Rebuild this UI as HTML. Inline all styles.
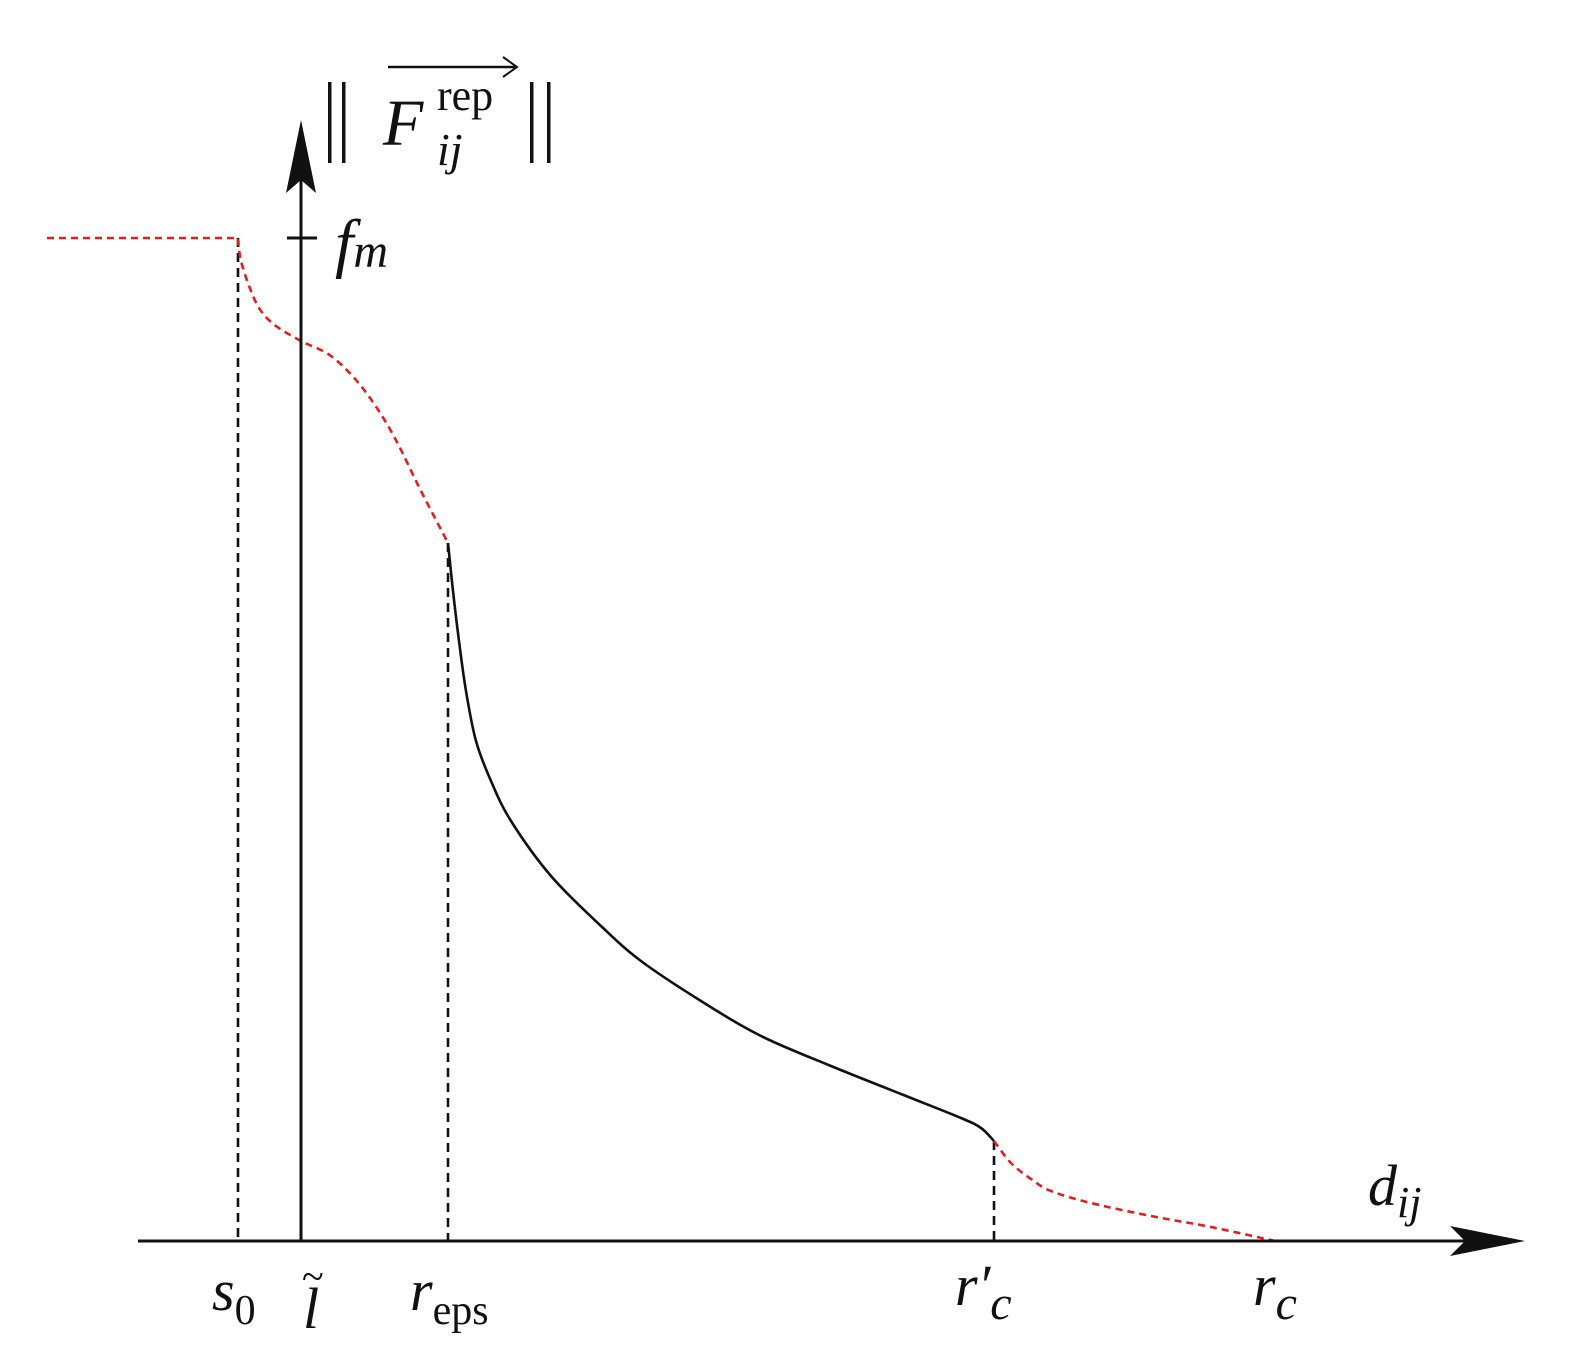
<!DOCTYPE html>
<html><head><meta charset="utf-8"><style>
body{margin:0;background:#fff}
svg{display:block}
text{font-family:"Liberation Serif",serif;fill:#111}
</style></head><body>
<svg width="1570" height="1352" viewBox="0 0 1570 1352">
<g id="marks"></g>
<line x1="138" y1="1241" x2="1480" y2="1241" stroke="#111" stroke-width="3"/>
<polygon points="1525,1241 1450,1226 1465,1241 1450,1256" fill="#111"/>
<line x1="301" y1="1241" x2="301" y2="160" stroke="#111" stroke-width="3"/>
<polygon points="301,120 286,193 301,180 316,193" fill="#111"/>
<line x1="287" y1="238" x2="317" y2="238" stroke="#111" stroke-width="3"/>
<g>
<rect x="328" y="82" width="3.5" height="81" fill="#111"/><rect x="342" y="82" width="3.5" height="81" fill="#111"/>
<rect x="530" y="82" width="3.5" height="81" fill="#111"/><rect x="547" y="82" width="3.5" height="81" fill="#111"/>
<line x1="388" y1="67" x2="515" y2="67" stroke="#111" stroke-width="2.5"/>
<path d="M503,57 L517,67 L503,77" fill="none" stroke="#111" stroke-width="2"/>
<text x="383" y="145" font-size="66" font-style="italic">F</text>
<text x="437" y="110" font-size="44">rep</text>
<text x="437" y="165" font-size="46" font-style="italic">ij</text>
</g>
<text x="335" y="265" font-size="66" font-style="italic">f<tspan font-size="48" dy="2">m</tspan></text>
<text x="1368" y="1205" font-size="58" font-style="italic">d<tspan font-size="44" dy="12">ij</tspan></text>
<text x="212" y="1310" font-size="58" font-style="italic">s<tspan font-style="normal" font-size="42" dy="14">0</tspan></text>
<text x="303" y="1328" font-size="58" font-style="italic">l</text>
<text x="302" y="1290" font-size="40">~</text>
<text x="410" y="1310" font-size="58" font-style="italic">r<tspan font-style="normal" font-size="42" dy="14">eps</tspan></text>
<text x="955" y="1305" font-size="58" font-style="italic">r′<tspan font-size="48" dy="14">c</tspan></text>
<text x="1253" y="1305" font-size="58" font-style="italic">r<tspan font-size="48" dy="14">c</tspan></text>
</svg>
<script>
const redLeftX=[-2.54,-0.63,-0.6,-0.5,-0.4,-0.25,0,0.3,0.6,0.9,1.2,1.47];
const redLeftY=[10.03,10.03,9.8,9.5,9.3,9.15,9.0,8.85,8.55,8.1,7.5,6.98];
const blackX=[1.47,1.52,1.58,1.65,1.75,1.9,2.1,2.5,3.0,3.4,4.0,4.6,5.3,6.0,6.6,6.8,6.93];
const blackY=[6.98,6.5,6.0,5.5,5.0,4.6,4.2,3.65,3.15,2.8,2.4,2.05,1.75,1.47,1.23,1.13,1.0];
const redRightX=[6.93,7.1,7.3,7.5,7.9,8.5,9.1,9.74];
const redRightY=[1.0,0.78,0.62,0.5,0.38,0.25,0.14,0];
const guideX=[-0.63,1.47,6.93];
const guideTop=[10.03,6.98,1.0];
const xs=v=>301+v*100, ys=v=>1241-v*100;
const g=document.getElementById('marks');
const NS='http://www.w3.org/2000/svg';
function path(X,Y,color,dash,name,smoothFrom){
  const P=X.map((x,i)=>[xs(x),ys(Y[i])]);
  let d='M'+P[0][0]+','+P[0][1];
  for(let i=0;i<P.length-1;i++){
    if(i<smoothFrom){d+='L'+P[i+1][0]+','+P[i+1][1];continue;}
    const p0=P[Math.max(i-1,smoothFrom)],p1=P[i],p2=P[i+1],p3=P[Math.min(i+2,P.length-1)];
    const c1=[p1[0]+(p2[0]-p0[0])/6,p1[1]+(p2[1]-p0[1])/6];
    const c2=[p2[0]-(p3[0]-p1[0])/6,p2[1]-(p3[1]-p1[1])/6];
    d+='C'+c1+' '+c2+' '+p2;
  }
  const p=document.createElementNS(NS,'path');
  p.setAttribute('d',d);p.setAttribute('fill','none');
  p.setAttribute('stroke',color);p.setAttribute('stroke-width','2.6');
  p.setAttribute('stroke-linejoin','round');
  if(dash)p.setAttribute('stroke-dasharray',dash);
  
  
  g.appendChild(p);
}
guideX.forEach((x,i)=>{
  const l=document.createElementNS(NS,'line');
  l.setAttribute('x1',xs(x));l.setAttribute('x2',xs(x));
  l.setAttribute('y1',ys(guideTop[i]));l.setAttribute('y2',ys(0));
  l.setAttribute('stroke','#111');l.setAttribute('stroke-width','2.6');
  l.setAttribute('stroke-dasharray','9,6');
  
  
  g.appendChild(l);
});
path(redLeftX,redLeftY,'#e02020','7,5','red-dashed-left',1);
path(blackX,blackY,'#111',null,'black-force-curve',0);
path(redRightX,redRightY,'#e02020','7,5','red-dashed-right',0);
</script>
</body></html>
